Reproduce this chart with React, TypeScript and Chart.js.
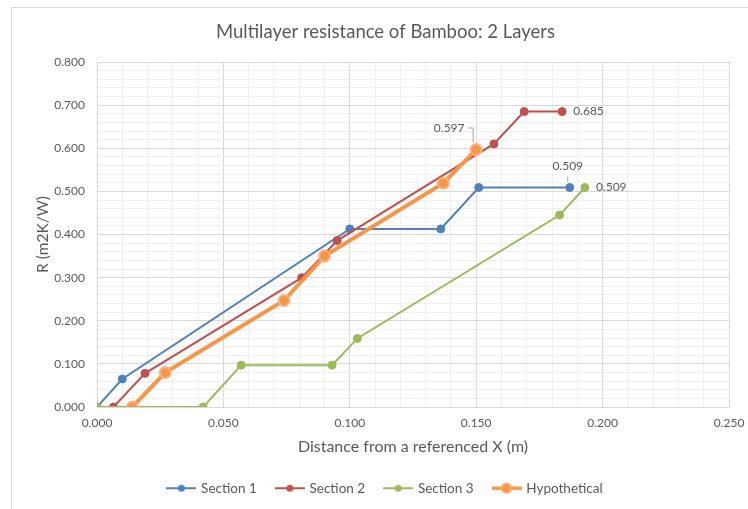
import React, { useEffect, useRef } from "react";
import { Chart, registerables } from "chart.js";

Chart.register(...registerables);

// ---- data ----
const chartTitle = "Multilayer resistance of Bamboo: 2 Layers";
const xAxisTitle = "Distance from a referenced X (m)";
const yAxisTitle = "R (m2K/W)";
const seriesNames = ["Section 1", "Section 2", "Section 3", "Hypothetical"];

const section1X = [0, 0.010, 0.100, 0.136, 0.151, 0.187];
const section1Y = [0, 0.065, 0.413, 0.413, 0.509, 0.509];

const section2X = [0.0065, 0.019, 0.081, 0.095, 0.157, 0.169, 0.184];
const section2Y = [0, 0.078, 0.300, 0.386, 0.610, 0.685, 0.685];

const section3X = [0, 0.042, 0.057, 0.093, 0.103, 0.183, 0.193];
const section3Y = [0, 0, 0.097, 0.097, 0.159, 0.445, 0.509];

const hypotheticalX = [0.014, 0.027, 0.074, 0.090, 0.137, 0.150];
const hypotheticalY = [0, 0.080, 0.247, 0.350, 0.519, 0.597];

const xMajorTicks = [0, 0.05, 0.1, 0.15, 0.2, 0.25];
const yMajorTicks = [0, 0.1, 0.2, 0.3, 0.4, 0.5, 0.6, 0.7, 0.8];

// ---- styles ----
const FONT = "Lato, 'Open Sans', sans-serif";
const TEXT = "#595959";
const GRID_MAJOR = "#D9D9D9";
const GRID_MINOR = "#F0F0F0";
const COLORS = ["#4F81BD", "#C0504D", "#9BBB59", "#F79646"];

const toPoints = (xs: number[], ys: number[]) => xs.map((x, i) => ({ x, y: ys[i] }));

const isMajor = (v: number, list: number[]) => list.some((m) => Math.abs(m - v) < 1e-6);

function makeIcon(color: string, lineW: number, r: number, ring?: string) {
  const c = document.createElement("canvas");
  c.width = 30;
  c.height = 14;
  const g = c.getContext("2d")!;
  g.strokeStyle = color;
  g.lineWidth = lineW;
  g.beginPath();
  g.moveTo(0, 7);
  g.lineTo(30, 7);
  g.stroke();
  g.beginPath();
  g.arc(15, 7, r, 0, Math.PI * 2);
  g.fillStyle = color;
  g.fill();
  if (ring) {
    g.strokeStyle = ring;
    g.lineWidth = 1.5;
    g.stroke();
  }
  return c;
}

const chartBorderPlugin = {
  id: "chartBorder",
  beforeDraw(chart: any) {
    const ctx = chart.ctx;
    ctx.save();
    ctx.fillStyle = "#ffffff";
    ctx.fillRect(0, 0, chart.width, chart.height);
    ctx.strokeStyle = "#D9D9D9";
    ctx.lineWidth = 1;
    ctx.strokeRect(11.5, 7.5, chart.width + 20, chart.height + 20);
    ctx.restore();
  },
};

const valueLabelPlugin = {
  id: "valueLabels",
  afterDatasetsDraw(chart: any, _args: any, opts: any) {
    const ctx = chart.ctx;
    (opts.items || []).forEach((it: any) => {
      const meta = chart.getDatasetMeta(it.dataset);
      const el = meta.data[it.index];
      if (!el) return;
      const v = chart.data.datasets[it.dataset].data[it.index].y as number;
      ctx.save();
      ctx.font = `12px ${FONT}`;
      ctx.fillStyle = TEXT;
      ctx.textAlign = it.align;
      ctx.textBaseline = "middle";
      ctx.fillText(v.toFixed(3), el.x + it.dx, el.y + it.dy);
      if (it.leader) {
        ctx.strokeStyle = "#A6A6A6";
        ctx.lineWidth = 1;
        ctx.beginPath();
        it.leader.forEach((p: number[], k: number) => {
          const px = el.x + p[0];
          const py = el.y + p[1];
          if (k === 0) ctx.moveTo(px, py);
          else ctx.lineTo(px, py);
        });
        ctx.stroke();
      }
      ctx.restore();
    });
  },
};

export default function App() {
  const ref = useRef<HTMLCanvasElement | null>(null);

  useEffect(() => {
    document.body.style.margin = "0";
    const canvas = ref.current;
    if (!canvas) return;

    const icons = [
      makeIcon(COLORS[0], 2, 3.5),
      makeIcon(COLORS[1], 2, 3.5),
      makeIcon(COLORS[2], 2, 3.5),
      makeIcon(COLORS[3], 3.5, 5, "#F9B27F"),
    ];

    const seriesX = [section1X, section2X, section3X, hypotheticalX];
    const seriesY = [section1Y, section2Y, section3Y, hypotheticalY];

    const datasets = seriesNames.map((name, i) => {
      const hyp = i === 3;
      return {
        label: name,
        data: toPoints(seriesX[i], seriesY[i]),
        showLine: true,
        borderColor: COLORS[i],
        backgroundColor: COLORS[i],
        borderWidth: hyp ? 4 : 2,
        pointRadius: hyp ? 5.5 : 4,
        pointBackgroundColor: COLORS[i],
        pointBorderColor: hyp ? "#F9B27F" : COLORS[i],
        pointBorderWidth: hyp ? 2 : 1,
        order: 3 - i,
      };
    });

    const chart = new Chart(canvas, {
      type: "scatter",
      data: { datasets },
      plugins: [chartBorderPlugin, valueLabelPlugin],
      options: {
        animation: false,
        responsive: false,
        layout: { padding: { top: 0, right: 19, bottom: 4, left: 42 } },
        plugins: {
          tooltip: { enabled: false },
          title: {
            display: true,
            text: chartTitle,
            color: TEXT,
            font: { family: FONT, size: 18.5, weight: "normal" },
            padding: { top: 20.5, bottom: 19.3 },
          },
          legend: {
            position: "bottom",
            labels: {
              color: TEXT,
              font: { family: FONT, size: 13.5 },
              usePointStyle: true,
              pointStyleWidth: 26,
              padding: 20,
              generateLabels: (ch: any) =>
                ch.data.datasets.map((ds: any, i: number) => ({
                  text: ds.label,
                  pointStyle: icons[i],
                  fillStyle: COLORS[i],
                  strokeStyle: COLORS[i],
                  lineWidth: 0,
                  hidden: false,
                  datasetIndex: i,
                  fontColor: TEXT,
                })),
            },
          },
          valueLabels: {
            items: [
              { dataset: 0, index: section1X.length - 1, dx: -2, dy: -21, align: "center", leader: [[-2, -11], [-2, -6]] },
              { dataset: 1, index: section2X.length - 1, dx: 11, dy: 0, align: "left" },
              { dataset: 2, index: section3X.length - 1, dx: 11, dy: 0, align: "left" },
              { dataset: 3, index: hypotheticalX.length - 1, dx: -27, dy: -21, align: "center", leader: [[-8, -21.5], [-3, -21.5], [-3, -7]] },
            ],
          },
        } as any,
        scales: {
          x: {
            type: "linear",
            min: 0,
            max: 0.25,
            afterFit: (s: any) => {
              s.height = 54.5;
              s.paddingLeft = 0;
              s.paddingRight = 0;
            },
            ticks: {
              stepSize: 0.01,
              autoSkip: false,
              maxRotation: 0,
              padding: 9,
              color: TEXT,
              font: { family: FONT, size: 12 },
              callback: (v: any) => (isMajor(Number(v), xMajorTicks) ? Number(v).toFixed(3) : ""),
            },
            grid: {
              drawTicks: false,
              color: (c: any) => (isMajor(c.tick?.value ?? 0, xMajorTicks) ? GRID_MAJOR : GRID_MINOR),
            },
            border: { display: true, color: GRID_MAJOR },
            title: {
              display: true,
              text: xAxisTitle,
              color: TEXT,
              font: { family: FONT, size: 16 },
              padding: { top: 0, bottom: 4.6 },
            },
          },
          y: {
            type: "linear",
            min: 0,
            max: 0.8,
            afterFit: (s: any) => {
              s.width = 55;
              s.paddingTop = 0;
              s.paddingBottom = 0;
            },
            ticks: {
              stepSize: 0.02,
              autoSkip: false,
              padding: 12,
              color: TEXT,
              font: { family: FONT, size: 12 },
              callback: (v: any) => (isMajor(Number(v), yMajorTicks) ? Number(v).toFixed(3) : ""),
            },
            grid: {
              drawTicks: false,
              color: (c: any) => (isMajor(c.tick?.value ?? 0, yMajorTicks) ? GRID_MAJOR : GRID_MINOR),
            },
            border: { display: true, color: GRID_MAJOR },
            title: {
              display: true,
              text: yAxisTitle,
              color: TEXT,
              font: { family: FONT, size: 15.5 },
              padding: { top: -8.3, bottom: 0 },
            },
          },
        },
      } as any,
    });

    return () => chart.destroy();
  }, []);

  return (
    <div style={{ width: 748, height: 509, overflow: "hidden" }}>
      <canvas ref={ref} width={748} height={509} style={{ display: "block" }} />
    </div>
  );
}
